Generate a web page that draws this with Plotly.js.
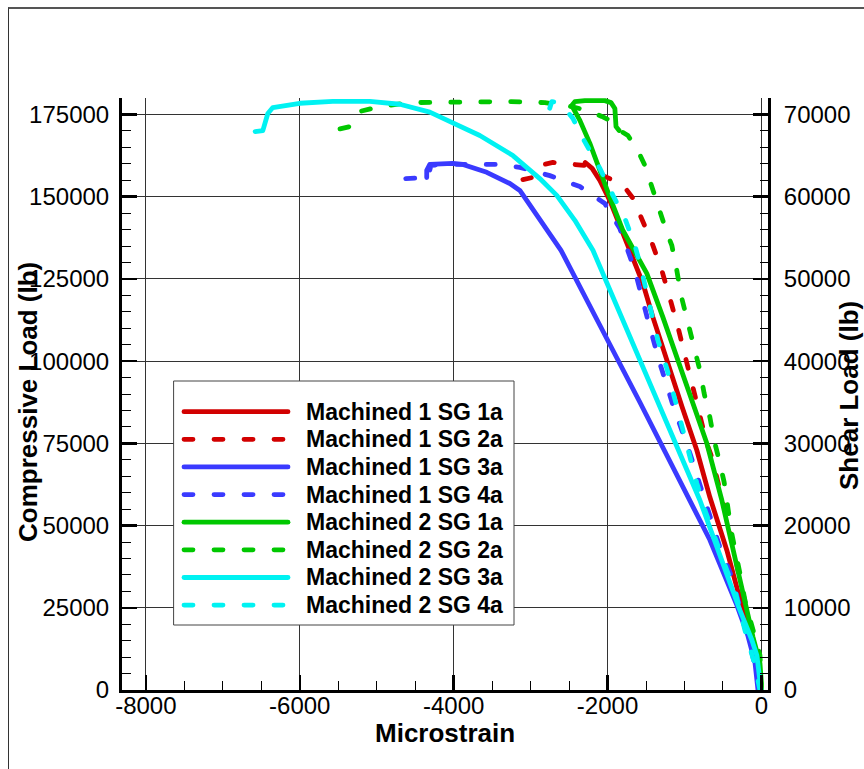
<!DOCTYPE html>
<html><head><meta charset="utf-8">
<script src="https://cdn.plot.ly/plotly-3.0.1.min.js"></script>
<style>
html,body{margin:0;padding:0;background:#fff;overflow:hidden;}
#chart{width:864px;height:769px;}
#frame{position:absolute;left:8px;top:7px;width:900px;height:800px;border-left:1px solid #333;border-top:2px solid #555;pointer-events:none;}
.scatterlayer path.js-line, .shapelayer path{stroke-linecap:round;stroke-linejoin:round;}
</style></head><body>
<div id="chart"></div><div id="frame"></div>
<script>
// ---- data (microstrain, compressive load lb) ----
const seriesNames = ['Machined 1 SG 1a','Machined 1 SG 2a','Machined 1 SG 3a','Machined 1 SG 4a',
                     'Machined 2 SG 1a','Machined 2 SG 2a','Machined 2 SG 3a','Machined 2 SG 4a'];

const m1sg1aX = [-10,-60,-120,-210,-320,-450,-670,-840,-1030,-1230,-1410,-1540,-1750,-1970,-2100,-2200,-2290];
const m1sg1aY = [0,7600,13700,21300,30400,42500,58600,72900,86000,100200,113300,123600,135800,148800,154900,158600,160400];

const m1sg2aX = [-20,-70,-150,-250,-340,-435,-540,-645,-710,-800,-890,-995,-1085,-1190,-1295,-1425,-1580,-1670,-1775,-1945,-2060,-2165,-2295,-2490,-2710,-2880,-2980,-3100];
const m1sg2aY = [0,9100,18200,30400,41000,51600,60800,70800,75000,83500,92700,101200,110300,119100,127600,136100,144900,149500,152800,155200,156400,158900,159500,159800,160400,159500,155800,155200];

const m1sg3aX = [-45,-85,-175,-320,-670,-1060,-1580,-2100,-2605,-3140,-3270,-3570,-3880,-4010,-4220,-4310,-4350,-4350];
const m1sg3aY = [0,8500,16400,25800,45600,63800,87500,110900,133700,151900,154000,157400,159800,160100,160100,159800,158000,155800];

const m1sg4aX = [-20,-85,-215,-385,-540,-710,-930,-1150,-1320,-1475,-1645,-1840,-2035,-2360,-2750,-3140,-3400,-4110,-4295,-4335,-4635];
const m1sg4aY = [0,7600,19700,34300,43400,55600,72000,86600,99300,112400,127600,140300,147900,153100,156400,158900,159800,159800,159500,155800,155500];

const m2sg1aX = [0,0,-20,-110,-240,-370,-515,-710,-890,-1085,-1280,-1490,-1645,-1800,-1970,-2100,-2230,-2360,-2465,-2425,-2295,-2035,-1955,-1905,-1890,-1850];
const m2sg1aY = [0,2100,8200,16100,29500,43400,57700,75000,87200,100200,113300,126700,133100,139700,149800,158000,166200,173200,177700,178900,179200,179200,178600,176800,171300,170100];

const m2sg2aX = [-20,-6,-20,-85,-150,-215,-280,-345,-395,-450,-485,-550,-615,-670,-745,-800,-865,-930,-995,-1045,-1100,-1165,-1230,-1320,-1425,-1515,-1605,-1735,-1840,-1970,-2075,-2255,-2530,-2815,-3270,-4050,-4570,-4960,-5220,-5350,-5570];
const m2sg2aY = [0,5500,10600,16100,21300,27300,35500,42500,48600,57700,63200,69900,75900,82900,90200,97200,103300,108400,114800,120000,127600,135200,139100,145800,152500,159500,164000,168600,170100,173200,174400,176200,177700,178600,178900,178900,178600,177400,175900,171300,170100];

const m2sg3aX = [-6,-20,-60,-125,-280,-800,-1580,-2190,-2425,-2660,-2880,-3230,-3660,-4010,-4310,-4700,-5090,-5570,-6000,-6350,-6415,-6480,-6580];
const m2sg3aY = [0,3000,10600,15200,24300,57700,100200,133700,142800,150400,155500,162500,168600,172500,175700,178100,179000,179000,178400,177100,175300,170100,169800];

const m2sg4aX = [-20,-85,-215,-345,-435,-540,-645,-735,-840,-930,-1020,-1125,-1230,-1345,-1425,-1515,-1580,-1645,-1775,-1930,-2100,-2230,-2335,-2450,-2555,-2645,-2725,-2760,-2775];
const m2sg4aY = [0,7600,18200,30400,35500,42500,48600,54700,62900,70800,79000,88100,97800,106300,114800,123900,129700,135200,143400,150400,158600,164000,168300,173800,176800,178600,178900,176200,173800];

const xTickVals = [-8000,-6000,-4000,-2000,0];
const xTickText = ['-8000','-6000','-4000','-2000','0'];
const xTitle = 'Microstrain', yTitle = 'Compressive Load (lb)', y2Title = 'Shear Load (lb)';

// ---- styles ----
const seriesX = [m1sg1aX,m1sg2aX,m1sg3aX,m1sg4aX,m2sg1aX,m2sg2aX,m2sg3aX,m2sg4aX];
const seriesY = [m1sg1aY,m1sg2aY,m1sg3aY,m1sg4aY,m2sg1aY,m2sg2aY,m2sg3aY,m2sg4aY];
const colors = ['#d20000','#d20000','#3a3aff','#3a3aff','#00c800','#00c800','#00f2f2','#00f2f2'];
const DASH = '9px,21px';
const dashes = ['solid',DASH,'solid',DASH,'solid',DASH,'solid',DASH];
const LW = 4.8;

const traces = seriesNames.map((n,i)=>({
  type:'scatter', mode:'lines', name:n, x:seriesX[i], y:seriesY[i],
  line:{color:colors[i], width:LW, dash:dashes[i]}, showlegend:false, hoverinfo:'skip'
}));
traces.push({type:'scatter', mode:'lines', x:[], y:[], yaxis:'y2', showlegend:false, hoverinfo:'skip'});

// ---- layout geometry (pixels) ----
const M = {l:122, r:96, t:98, b:79};
const W = 864, H = 769;
const PW = W - M.l - M.r, PH = H - M.t - M.b;
const px2x = p => (p - M.l) / PW;
const py2y = p => (H - M.b - p) / PH;

const FONT = 'Liberation Sans, Arial, Helvetica, sans-serif';
const tickFont = {family:FONT, size:24, color:'#000'};
const titleFont = {family:FONT, size:26, color:'#000', weight:'bold'};

// manual legend
const legBox = {x0:174, x1:514, y0:381, y1:625};
const rowY0 = 411.7, rowStep = 27.63;
const shapes = [{type:'rect', xref:'paper', yref:'paper', layer:'above',
  x0:px2x(legBox.x0), x1:px2x(legBox.x1), y0:py2y(legBox.y0), y1:py2y(legBox.y1),
  line:{color:'#444', width:1}, fillcolor:'#fff'}];
const annotations = [];
seriesNames.forEach((n,i)=>{
  const yy = py2y(rowY0 + i*rowStep);
  shapes.push({type:'line', xref:'paper', yref:'paper', layer:'above',
    x0:px2x(184), x1:px2x(288), y0:yy, y1:yy,
    line:{color:colors[i], width:LW, dash:dashes[i]}});
  annotations.push({xref:'paper', yref:'paper', x:px2x(304), y:yy, xanchor:'left', yanchor:'middle',
    showarrow:false, text:n, font:{family:FONT, size:23, color:'#000', weight:'bold'}});
});
// axis titles
annotations.push({xref:'paper', yref:'paper', x:px2x(445), y:py2y(733), xanchor:'center', yanchor:'middle',
  showarrow:false, text:xTitle, font:titleFont});
annotations.push({xref:'paper', yref:'paper', x:px2x(28), y:py2y(402), xanchor:'center', yanchor:'middle',
  showarrow:false, text:yTitle, textangle:-90, font:titleFont});
annotations.push({xref:'paper', yref:'paper', x:px2x(849), y:py2y(395), xanchor:'center', yanchor:'middle',
  showarrow:false, text:y2Title, textangle:-90, font:titleFont});

const layout = {
  width:W, height:H, margin:M, paper_bgcolor:'#fff', plot_bgcolor:'#fff', showlegend:false,
  xaxis:{range:[-8310,85], tickmode:'array', tickvals:xTickVals, ticktext:xTickText,
    ticks:'inside', ticklen:15, tickwidth:2.5, tickcolor:'#000',
    showline:true, linewidth:3, linecolor:'#000', mirror:false,
    showgrid:true, gridcolor:'#333', gridwidth:1, zeroline:false,
    minor:{tickmode:'linear', tick0:0, dtick:500, ticks:'inside', ticklen:9, tickwidth:1, tickcolor:'#000', showgrid:false},
    tickfont:tickFont, ticklabelstandoff:-8},
  yaxis:{range:[0,180000], tick0:0, dtick:25000, tickformat:'d',
    ticks:'inside', ticklen:15, tickwidth:2.5, tickcolor:'#000',
    showline:true, linewidth:3, linecolor:'#000',
    showgrid:true, gridcolor:'#333', gridwidth:1, zeroline:false,
    minor:{tick0:0, dtick:5000, ticks:'inside', ticklen:9, tickwidth:1, tickcolor:'#000', showgrid:false},
    tickfont:tickFont, ticklabelstandoff:5},
  yaxis2:{overlaying:'y', side:'right', anchor:'x', range:[0,72000], tick0:0, dtick:10000, tickformat:'d',
    ticks:'inside', ticklen:15, tickwidth:2.5, tickcolor:'#000',
    showline:true, linewidth:3, linecolor:'#000',
    showgrid:false, zeroline:false,
    minor:{tick0:0, dtick:2000, ticks:'inside', ticklen:8, tickwidth:1, tickcolor:'#000', showgrid:false},
    tickfont:tickFont, ticklabelstandoff:8},
  shapes:shapes, annotations:annotations
};

Plotly.newPlot('chart', traces, layout, {displayModeBar:false, staticPlot:true});
</script>
</body></html>
